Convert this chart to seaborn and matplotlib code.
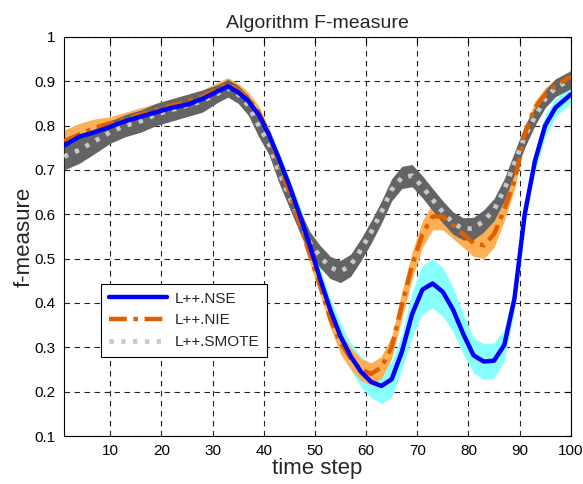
import numpy as np
import pandas as pd
import matplotlib
matplotlib.use('Agg')
import matplotlib.pyplot as plt
import seaborn as sns

# time steps where values were read
steps = [1, 4, 7, 10, 13, 16, 19, 22, 25, 28, 31, 33, 35, 37, 39, 41, 43, 45, 47, 49,
         51, 53, 55, 57, 59, 61, 63, 65, 67, 69, 71, 73, 75, 77, 79, 81, 83, 85, 87, 89,
         91, 93, 95, 97, 100]

nse = [0.755, 0.775, 0.785, 0.797, 0.81, 0.82, 0.83, 0.84, 0.847, 0.86, 0.877, 0.888, 0.875, 0.855, 0.825, 0.78, 0.725, 0.665, 0.6, 0.53,
       0.455, 0.385, 0.325, 0.28, 0.245, 0.222, 0.213, 0.228, 0.29, 0.375, 0.43, 0.444, 0.425, 0.385, 0.33, 0.282, 0.268, 0.27, 0.305, 0.41,
       0.6, 0.72, 0.8, 0.84, 0.87]
nse_err = [0.02, 0.02, 0.02, 0.02, 0.02, 0.02, 0.02, 0.02, 0.02, 0.02, 0.02, 0.015, 0.015, 0.015, 0.015, 0.015, 0.015, 0.015, 0.02, 0.025,
           0.025, 0.025, 0.03, 0.03, 0.035, 0.035, 0.04, 0.04, 0.04, 0.05, 0.055, 0.055, 0.055, 0.05, 0.045, 0.04, 0.04, 0.04, 0.035, 0.025,
           0.02, 0.025, 0.025, 0.02, 0.02]

nie = [0.765, 0.78, 0.795, 0.805, 0.815, 0.825, 0.835, 0.845, 0.855, 0.865, 0.882, 0.893, 0.88, 0.86, 0.83, 0.78, 0.715, 0.65, 0.58, 0.51,
       0.44, 0.365, 0.31, 0.275, 0.25, 0.24, 0.255, 0.3, 0.395, 0.485, 0.555, 0.595, 0.595, 0.575, 0.555, 0.535, 0.53, 0.555, 0.61, 0.675,
       0.78, 0.84, 0.87, 0.89, 0.91]
nie_err = [0.025, 0.025, 0.02, 0.015, 0.015, 0.015, 0.015, 0.015, 0.015, 0.015, 0.015, 0.015, 0.015, 0.015, 0.015, 0.015, 0.015, 0.015, 0.015, 0.02,
           0.02, 0.02, 0.025, 0.025, 0.025, 0.025, 0.025, 0.025, 0.03, 0.03, 0.03, 0.03, 0.03, 0.03, 0.03, 0.03, 0.03, 0.03, 0.025, 0.02,
           0.015, 0.015, 0.015, 0.015, 0.015]

smote = [0.73, 0.745, 0.765, 0.785, 0.8, 0.81, 0.825, 0.835, 0.845, 0.855, 0.872, 0.884, 0.87, 0.845, 0.8, 0.76, 0.695, 0.64, 0.585, 0.536,
         0.505, 0.48, 0.471, 0.485, 0.52, 0.56, 0.605, 0.655, 0.683, 0.687, 0.662, 0.633, 0.605, 0.58, 0.567, 0.568, 0.585, 0.61, 0.655, 0.715,
         0.775, 0.82, 0.86, 0.885, 0.903]
smote_err = [0.03, 0.03, 0.028, 0.025, 0.025, 0.025, 0.025, 0.025, 0.025, 0.025, 0.02, 0.02, 0.02, 0.022, 0.025, 0.025, 0.025, 0.025, 0.025, 0.025,
             0.025, 0.025, 0.025, 0.025, 0.025, 0.025, 0.025, 0.025, 0.025, 0.025, 0.025, 0.025, 0.025, 0.025, 0.025, 0.025, 0.025, 0.025, 0.025, 0.025,
             0.025, 0.02, 0.02, 0.02, 0.02]

df = pd.DataFrame({'step': steps, 'nse': nse, 'nie': nie, 'smote': smote})

sns.set_style('white')
plt.rcParams['font.family'] = ['Liberation Sans', 'DejaVu Sans']

fig = plt.figure(figsize=(5.83, 4.84), dpi=100)
ax = fig.add_axes([0.11, 0.099, 0.869, 0.825])

s = np.array(steps)
ax.fill_between(s, np.array(nse) - nse_err, np.array(nse) + nse_err, color='#88ffff', lw=0, zorder=1)
ax.fill_between(s, np.array(nie) - nie_err, np.array(nie) + nie_err, color='#ffb055', lw=0, zorder=2)
ax.fill_between(s, np.array(smote) - smote_err, np.array(smote) + smote_err, color='#646464', lw=0, zorder=3)

sns.lineplot(x='step', y='nse', data=df, ax=ax, color='#0000ff', lw=3.2, label='L++.NSE', zorder=6)
sns.lineplot(x='step', y='nie', data=df, ax=ax, color='#e06000', lw=3.2, linestyle=(0, (4, 1.5, 1, 1.5)),
             label='L++.NIE', zorder=5)
sns.lineplot(x='step', y='smote', data=df, ax=ax, color='#c8c8c8', lw=3.4, linestyle=(0, (0.9, 1.6)),
             label='L++.SMOTE', zorder=4)

ax.set_xlim(1, 100)
ax.set_ylim(0.1, 1)
ax.set_xticks(range(10, 101, 10))
ax.set_yticks(np.arange(0.1, 1.01, 0.1))
ax.set_yticklabels(['0.1', '0.2', '0.3', '0.4', '0.5', '0.6', '0.7', '0.8', '0.9', '1'])
ax.grid(True, color='#222222', linestyle=(0, (5, 4)), lw=0.8)
ax.set_axisbelow(True)
for sp in ax.spines.values():
    sp.set_color('black')
    sp.set_linewidth(0.8)
ax.tick_params(direction='in', top=True, right=True, length=4, width=0.8, labelsize=11, colors='black', pad=6)

ax.set_title('Algorithm F-measure', fontsize=14, pad=6)
ax.set_xlabel('time step', fontsize=16, labelpad=0)
ax.set_ylabel('f-measure', fontsize=16, labelpad=0)

leg = ax.legend(loc='lower left', bbox_to_anchor=(0.058, 0.18), fontsize=11, frameon=True,
                fancybox=False, handlelength=3.8, borderpad=0.5, labelspacing=0.5, handletextpad=0.5)
leg.get_frame().set_edgecolor('black')
leg.get_frame().set_linewidth(0.8)
leg.get_frame().set_alpha(1)

plt.savefig('out.png', dpi=100)
